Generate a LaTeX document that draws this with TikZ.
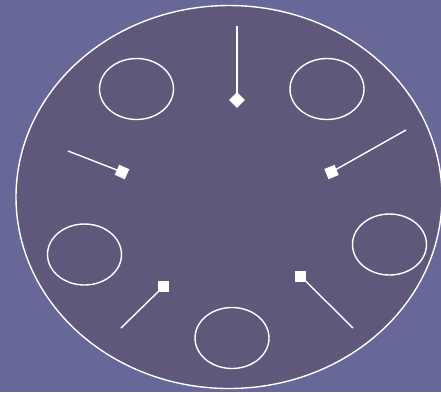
\documentclass[tikz,border=0pt]{standalone}
\usetikzlibrary{shapes.geometric}
\definecolor{bgcol}{RGB}{104,104,152}
\definecolor{discol}{RGB}{95,88,122}
\tikzset{
  seat/.style={draw=white, line width=1.4pt, ellipse, minimum width=74pt, minimum height=61pt, inner sep=0pt},
  post/.style={fill=white, draw=none, rectangle, minimum size=11pt, inner sep=0pt},
  rod/.style={draw=white, line width=1.4pt}
}
\begin{document}
\begin{tikzpicture}[x=1pt,y=-1pt]
\fill[bgcol] (0,0) rectangle (441,392);
\useasboundingbox (0,0) rectangle (441,392);
\node[draw=white, fill=discol, line width=1.4pt, ellipse, minimum width=426pt, minimum height=383pt, inner sep=0pt] (disc) at (229,197) {};
\node[seat] (e1) at (136.5,89) {};
\node[seat] (e2) at (327,89) {};
\node[seat] (e3) at (84.5,254.5) {};
\node[seat] (e4) at (389.5,244.5) {};
\node[seat] (e5) at (232,338) {};
\coordinate (a1) at (237,26);
\coordinate (a2) at (68,151);
\coordinate (a3) at (406,130);
\coordinate (a4) at (121,328);
\coordinate (a5) at (353,328);
\node[post, rotate=45] (p1) at (237,100) {};
\node[post, rotate=-24] (p2) at (122,172) {};
\node[post, rotate=22] (p3) at (331.5,172) {};
\node[post] (p4) at (163.5,286.5) {};
\node[post] (p5) at (300.5,276) {};
\draw[rod] (a1) -- (p1.center);
\draw[rod] (a2) -- (p2.center);
\draw[rod] (a3) -- (p3.center);
\draw[rod] (a4) -- (p4.center);
\draw[rod] (a5) -- (p5.center);
\end{tikzpicture}
\end{document}
